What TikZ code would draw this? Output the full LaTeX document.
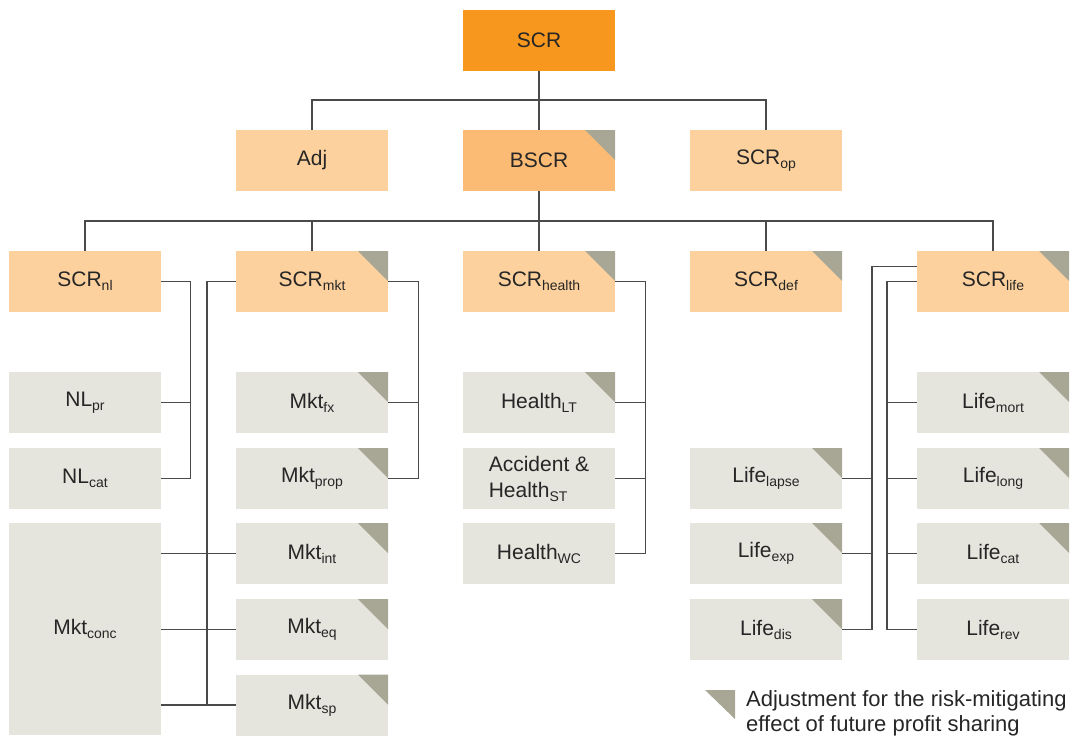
\documentclass[tikz,border=0pt]{standalone}
\usepackage{fontspec}
\setmainfont{Liberation Sans}
\definecolor{scrcol}{HTML}{F7971E}
\definecolor{bscrcol}{HTML}{FCBB74}
\definecolor{lightor}{HTML}{FCD19D}
\definecolor{graybox}{HTML}{E5E4DD}
\definecolor{tricol}{HTML}{A8A795}
\definecolor{linecol}{HTML}{4A4A4A}
\definecolor{txtcol}{HTML}{262626}
\newcommand{\lowsub}[1]{\raisebox{-4pt}{\fontsize{14}{14}\selectfont #1}}
\begin{document}
\begin{tikzpicture}[x=1pt,y=-1pt,
  box/.style={rectangle, minimum width=152pt, minimum height=61pt, inner sep=0pt,
    text=txtcol, font=\fontsize{21}{26}\selectfont},
  topbox/.style={box, fill=scrcol},
  midbox/.style={box, fill=bscrcol},
  orbox/.style={box, fill=lightor},
  grbox/.style={box, fill=graybox},
  flag/.style={path picture={\fill[tricol] ([xshift=-30pt]path picture bounding box.north east)
      -- (path picture bounding box.north east) -- ([yshift=-30pt]path picture bounding box.north east) -- cycle;}},
  conn/.style={draw=linecol, line width=1.4pt}
]
\useasboundingbox (0,0) rectangle (1071,737);

% level 1
\node[topbox] (scr) at (539,40) {SCR};
% level 2
\node[orbox] (adj) at (312,160.5) {Adj};
\node[midbox,flag] (bscr) at (539,160.5) {BSCR};
\node[orbox] (op) at (766,160.5) {SCR\lowsub{op}};
% level 3
\node[orbox] (nl) at (85,281.5) {SCR\lowsub{nl}};
\node[orbox,flag] (mkt) at (312,281.5) {SCR\lowsub{mkt}};
\node[orbox,flag] (health) at (539,281.5) {SCR\lowsub{health}};
\node[orbox,flag] (def) at (766,281.5) {SCR\lowsub{def}};
\node[orbox,flag] (life) at (993,281.5) {SCR\lowsub{life}};
% NL
\node[grbox] (nlpr) at (85,402.5) {NL\lowsub{pr}};
\node[grbox] (nlcat) at (85,478.5) {NL\lowsub{cat}};
\node[grbox, minimum height=212pt] (mktconc) at (85,629) {Mkt\lowsub{conc}};
% Mkt
\node[grbox,flag] (mktfx) at (312,402.5) {Mkt\lowsub{fx}};
\node[grbox,flag] (mktprop) at (312,478.5) {Mkt\lowsub{prop}};
\node[grbox,flag] (mktint) at (312,553.5) {Mkt\lowsub{int}};
\node[grbox,flag] (mkteq) at (312,629.5) {Mkt\lowsub{eq}};
\node[grbox,flag] (mktsp) at (312,705) {Mkt\lowsub{sp}};
% Health
\node[grbox,flag] (hlt) at (539,402.5) {Health\lowsub{LT}};
\node[grbox,align=left] (hst) at (539,478.5) {Accident \&\\Health\lowsub{ST}};
\node[grbox] (hwc) at (539,553.5) {Health\lowsub{WC}};
% Life left column
\node[grbox,flag] (lapse) at (766,478.5) {Life\lowsub{lapse}};
\node[grbox,flag] (lexp) at (766,553.5) {Life\lowsub{exp}};
\node[grbox,flag] (ldis) at (766,629.5) {Life\lowsub{dis}};
% Life right column
\node[grbox,flag] (lmort) at (993,402.5) {Life\lowsub{mort}};
\node[grbox,flag] (llong) at (993,478.5) {Life\lowsub{long}};
\node[grbox,flag] (lcat) at (993,553.5) {Life\lowsub{cat}};
\node[grbox] (lrev) at (993,629.5) {Life\lowsub{rev}};

% connectors level 1-2
\draw[conn] (scr.south) -- (bscr.north);
\draw[conn] (adj.north) -- ++(0,-30) -| (op.north);
% level 2-3
\draw[conn] (bscr.south) -- (health.north);
\draw[conn] (nl.north) -- ++(0,-30) -| (life.north);
\draw[conn] (mkt.north) -- ++(0,-30);
\draw[conn] (def.north) -- ++(0,-30);
% NL
\draw[conn] (nl.east) -- ++(29,0) |- (nlcat.east);
\draw[conn] (nlpr.east) -- ++(29,0);
% Mkt right
\draw[conn] (mkt.east) -- ++(30,0) |- (mktprop.east);
\draw[conn] (mktfx.east) -- ++(30,0);
% Mkt left
\draw[conn] (mkt.west) -- ++(-29,0) |- (mktsp.west);
\draw[conn] (mktint.west) -- (mktint.west -| mktconc.east);
\draw[conn] (mkteq.west) -- (mkteq.west -| mktconc.east);
\draw[conn] (mktsp.west) -- (mktsp.west -| mktconc.east);
% Health
\draw[conn] (health.east) -- ++(30,0) |- (hwc.east);
\draw[conn] (hlt.east) -- ++(30,0);
\draw[conn] (hst.east) -- ++(30,0);
% Life outer
\draw[conn] ([yshift=15pt]life.west) -- ++(-45,0) |- (ldis.east);
\draw[conn] (lapse.east) -- ++(30,0);
\draw[conn] (lexp.east) -- ++(30,0);
% Life inner
\draw[conn] (life.west) -- ++(-30,0) |- (lrev.west);
\draw[conn] (lmort.west) -- ++(-30,0);
\draw[conn] (llong.west) -- ++(-30,0);
\draw[conn] (lcat.west) -- ++(-30,0);

% legend
\fill[tricol] (705,690) -- (735,690) -- (735,719) -- cycle;
\node[anchor=north west, inner sep=0pt, align=left, text=txtcol,
  font=\fontsize{22}{25}\selectfont] (legend) at (746,690)
  {Adjustment for the risk-mitigating\\effect of future profit sharing};
\end{tikzpicture}
\end{document}
